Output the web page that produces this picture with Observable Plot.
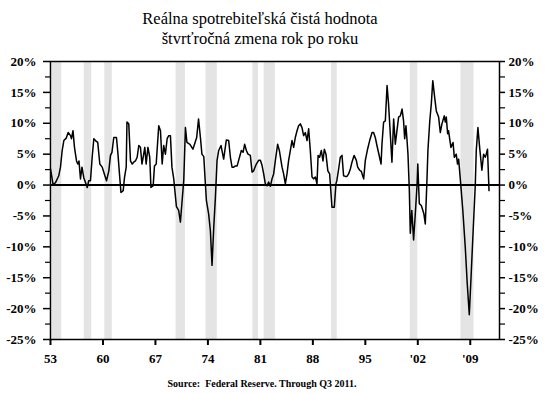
<!DOCTYPE html>
<html>
<head>
<meta charset="utf-8">
<script src="https://cdn.jsdelivr.net/npm/d3@7"></script>
<script src="https://cdn.jsdelivr.net/npm/@observablehq/plot@0.6"></script>
<style>
  html, body { margin: 0; padding: 0; background: #fff; }
  #wrap { width: 550px; height: 394px; position: relative; overflow: hidden; }
  #title { width: 520px; height: 50px; text-align: center; font-family: "Liberation Serif", "Times New Roman", serif;
           font-size: 16.5px; line-height: 20px; padding-top: 9px; box-sizing: border-box; color: #000; }
  #caption { width: 524px; height: 24px; text-align: center; font-family: "Liberation Serif", "Times New Roman", serif;
             font-size: 10px; font-weight: bold; line-height: 27px; color: #000; }
  svg { display: block; }
</style>
</head>
<body>
<div id="wrap">
  <div id="title">Reálna spotrebiteľská čistá hodnota<br>štvrťročná zmena rok po roku</div>
  <div id="chart"></div>
  <div id="caption">Source:&nbsp; Federal Reserve. Through Q3 2011.</div>
</div>
<script>
const years = [
  1953.0, 1953.36, 1953.67, 1954.1, 1954.33, 1954.56, 1954.78, 1955.1, 1955.36, 1955.67, 1955.8,
  1956.0, 1956.2, 1956.47, 1956.64, 1956.8, 1957.0, 1957.2, 1957.44, 1957.67, 1957.9,
  1958.1, 1958.33, 1958.56, 1958.78, 1959.0, 1959.3, 1959.58, 1959.9, 1960.1, 1960.47, 1960.78,
  1961.0, 1961.2, 1961.44, 1961.8, 1962.0, 1962.24, 1962.4, 1962.7, 1962.87, 1963.1, 1963.2,
  1963.44, 1963.67, 1963.9, 1964.1, 1964.33, 1964.56, 1964.78, 1965.0, 1965.2, 1965.36, 1965.58,
  1965.76, 1965.9, 1966.0, 1966.24, 1966.4, 1966.7, 1966.87, 1967.1, 1967.44, 1967.67, 1967.9,
  1968.1, 1968.33, 1968.56, 1968.78, 1969.0, 1969.2, 1969.44, 1969.8, 1970.1, 1970.33, 1970.56,
  1970.78, 1971.0, 1971.2, 1971.6, 1972.0, 1972.5, 1972.75, 1973.0, 1973.2, 1973.45, 1973.67,
  1973.8, 1974.1, 1974.33, 1974.55, 1974.78, 1975.0, 1975.22, 1975.44, 1975.75, 1976.1, 1976.46,
  1976.77, 1977.0, 1977.22, 1977.44, 1977.67, 1977.9, 1978.1, 1978.46, 1978.69, 1978.9, 1979.13,
  1979.35, 1979.66, 1979.89, 1980.1, 1980.46, 1980.77, 1981.0, 1981.22, 1981.44, 1981.66, 1981.89,
  1982.1, 1982.33, 1982.55, 1982.77, 1983.0, 1983.3, 1983.53, 1983.89, 1984.1, 1984.33, 1984.55,
  1984.77, 1985.0, 1985.22, 1985.44, 1985.66, 1985.89, 1986.1, 1986.33, 1986.55, 1986.77, 1987.0,
  1987.22, 1987.44, 1987.66, 1987.89, 1988.1, 1988.33, 1988.55, 1988.7, 1988.9, 1989.13, 1989.35,
  1989.53, 1989.75, 1990.0, 1990.24, 1990.55, 1990.86, 1991.08, 1991.2, 1991.44, 1991.66, 1991.89,
  1992.1, 1992.33, 1992.55, 1992.77, 1993.0, 1993.22, 1993.5, 1993.8, 1993.98, 1994.25, 1994.47,
  1994.78, 1995.0, 1995.3, 1995.58, 1995.9, 1996.1, 1996.33, 1996.55, 1996.9, 1997.1, 1997.22,
  1997.44, 1997.67, 1997.9, 1998.1, 1998.33, 1998.55, 1998.78, 1999.0, 1999.22, 1999.44, 1999.67,
  1999.9, 2000.1, 2000.25, 2000.42, 2000.55, 2000.69, 2000.87, 2001.0, 2001.2, 2001.44, 2001.7,
  2001.9, 2002.0, 2002.2, 2002.47, 2002.8, 2003.0, 2003.2, 2003.35, 2003.6, 2003.8, 2004.0,
  2004.25, 2004.47, 2004.78, 2005.0, 2005.22, 2005.53, 2005.67, 2005.8, 2005.98, 2006.1, 2006.25,
  2006.42, 2006.7, 2006.87, 2007.13, 2007.3, 2007.45, 2007.67, 2008.0, 2008.33, 2008.6, 2008.87,
  2009.1, 2009.4, 2009.67, 2009.8, 2010.02, 2010.25, 2010.55, 2010.78, 2011.0, 2011.13, 2011.3, 2011.5
];
const values = [
  2.6, 0.0, 0.4, 1.5, 2.9, 5.6, 7.2, 7.6, 8.5, 8.0, 7.5,
  8.8, 6.1, 3.9, 3.4, 3.9, 1.0, 2.9, 1.2, 0.4, -0.4,
  0.7, 0.7, 4.5, 7.5, 7.2, 6.9, 3.4, 2.9, 2.1, 0.7, 2.3,
  4.8, 5.3, 7.7, 7.7, 5.0, 1.2, -1.2, -0.9, 1.2, 2.9, 10.2,
  9.9, 3.9, 3.4, 3.7, 3.9, 4.5, 6.4, 6.1, 3.4, 4.5, 6.1,
  3.4, 5.0, 6.1, 4.5, -0.4, -0.1, 3.1, 3.4, 9.6, 8.8, 3.4,
  6.4, 5.0, 7.5, 8.0, 8.0, 2.9, 1.0, -3.5, -4.1, -6.0, -2.5,
  0.8, 9.3, 6.9, 6.6, 5.8, 7.7, 10.7, 7.7, 5.0, 4.6, 0.0,
  -2.5, -4.7, -7.4, -13.0, -6.8, -2.0, 4.0, 5.6, 6.4, 4.2, 7.3,
  7.2, 4.5, 2.9, 2.9, 3.1, 3.1, 4.0, 5.6, 5.3, 6.6, 5.6,
  5.0, 4.8, 2.1, 2.3, 3.4, 4.0, 4.0, 3.2, 1.8, 0.2, -0.1,
  0.5, -0.2, 1.0, 1.8, 4.0, 6.6, 5.6, 2.9, 1.8, 0.2, 1.8,
  4.0, 5.6, 7.2, 6.1, 7.7, 8.8, 9.6, 9.9, 9.3, 8.0, 8.5,
  7.2, 9.1, 5.6, 1.3, 1.0, 1.3, 0.2, 4.8, 4.5, 5.6, 3.9,
  5.8, 5.0, 2.3, 1.8, -3.6, -3.6, 0.2, 0.7, 2.6, 4.5, 4.8,
  1.5, 1.4, 1.4, 1.8, 2.6, 3.7, 4.8, 4.0, 2.9, 2.4, 2.2,
  1.0, 4.0, 5.8, 7.2, 8.5, 8.5, 7.7, 6.4, 4.5, 3.4, 6.6,
  10.2, 10.4, 16.1, 13.1, 8.3, 3.7, 10.7, 6.6, 8.8, 11.0, 11.2,
  12.3, 10.4, 7.5, 9.6, 7.5, 5.0, -0.8, -7.8, -4.1, -8.9, -4.0,
  0.0, 3.4, -3.0, -3.3, -4.6, -6.3, 0.0, 5.6, 10.4, 13.1, 16.9,
  14.2, 12.0, 11.0, 8.5, 9.9, 11.2, 10.2, 11.0, 8.3, 8.8, 7.5,
  6.1, 6.9, 4.5, 5.0, 3.4, 4.2, 1.0, -4.0, -10.0, -16.0, -21.0,
  -15.0, -7.0, 0.0, 5.6, 9.3, 6.1, 2.4, 5.0, 4.5, 5.0, 5.8, -0.9
];
// NBER recessions (decimal year start / end)
const recessionStart = [1953.25, 1957.5, 1960.25, 1969.75, 1973.75, 1980.0, 1981.5, 1990.5, 2001.0, 2007.75];
const recessionEnd   = [1954.5, 1958.5, 1961.25, 1971.0, 1975.25, 1980.75, 1983.0, 1991.25, 2002.0, 2009.5];
// Axis ticks
const xTickYears  = [1953, 1960, 1967, 1974, 1981, 1988, 1995, 2002, 2009];
const xTickLabels = ["53", "60", "67", "74", "81", "88", "95", "'02", "'09"];
const yTicks = [-25, -20, -15, -10, -5, 0, 5, 10, 15, 20];
const yMinorTicks = [-22.5, -17.5, -12.5, -7.5, -2.5, 2.5, 7.5, 12.5, 17.5];

const series = years.map((t, i) => ({t, v: values[i]}));
const recessions = recessionStart.map((s, i) => ({s, e: recessionEnd[i]}));
const xLabel = new Map(xTickYears.map((y, i) => [y, xTickLabels[i]]));
const pct = d => `${d}%`;
const serif = "Liberation Serif, Times New Roman, serif";
const txt = {fontFamily: serif, fontWeight: "bold", fontSize: 13, fill: "#000"};

const chart = Plot.plot({
  width: 550,
  height: 320,
  marginLeft: 50,
  marginRight: 51,
  marginTop: 11,
  marginBottom: 31,
  style: {fontFamily: serif, fontSize: "13px", color: "#000", background: "#fff", overflow: "visible"},
  x: {domain: [1953, 2012.9]},
  y: {domain: [-25, 20]},
  marks: [
    Plot.rect(recessions, {x1: "s", x2: "e", fill: "#e4e4e4"}),
    Plot.ruleY([0], {stroke: "#000", strokeWidth: 2}),
    Plot.line(series, {x: "t", y: "v", stroke: "#000", strokeWidth: 1.5, strokeLinejoin: "round"}),
    Plot.frame({stroke: "#000", strokeWidth: 1.5}),
    Plot.axisY({anchor: "left", ticks: yTicks, tickFormat: pct, tickSize: 7, tickPadding: 7, stroke: "#000", strokeWidth: 1.5, label: null, ...txt}),
    Plot.axisY({anchor: "left", ticks: yMinorTicks, tickFormat: () => "", tickSize: 5, stroke: "#000", strokeWidth: 1.2, label: null}),
    Plot.axisY({anchor: "right", ticks: yTicks, tickFormat: pct, tickSize: 5, tickPadding: 4, stroke: "#000", strokeWidth: 1.5, label: null, ...txt}),
    Plot.axisY({anchor: "right", ticks: yMinorTicks, tickFormat: () => "", tickSize: 5, stroke: "#000", strokeWidth: 1.2, label: null}),
    Plot.axisX({ticks: xTickYears, tickFormat: d => xLabel.get(d), tickSize: 6, tickPadding: 8, stroke: "#000", strokeWidth: 2, label: null, ...txt})
  ]
});
document.getElementById("chart").appendChild(chart);
</script>
</body>
</html>
